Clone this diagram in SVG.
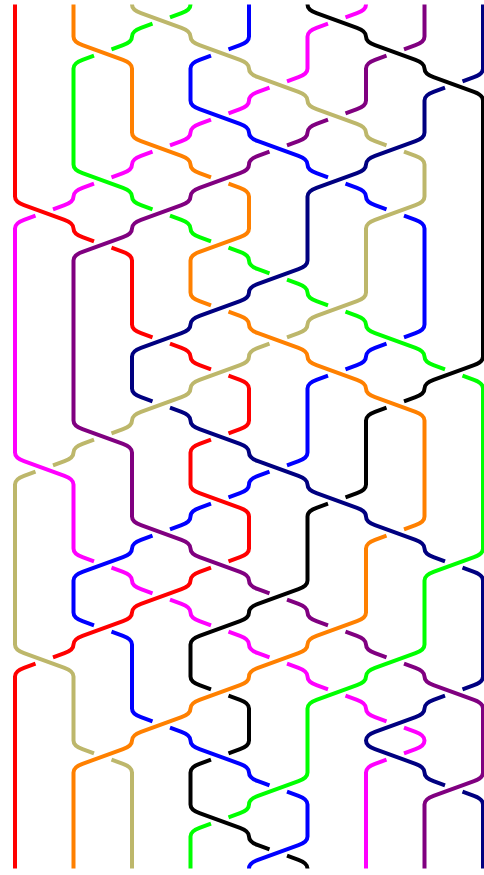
<svg xmlns="http://www.w3.org/2000/svg" width="484" height="875" viewBox="0 0 484 875">
<style>
.s{fill:none;stroke-width:4;stroke-linecap:butt;stroke-linejoin:round}
</style>
<rect width="484" height="875" fill="#fff"/>
<g id="strands">
<g id="red"><path class="s" stroke="#ff0000" d="M15,4.5 v192 q0,5.5 9,8.7 l40.5,14.6 q9,3.2 9,8.7 q0,5.5 9,8.7 l11.5,4.15 m17.5,6.3 l11.5,4.15 q9,3.2 9,8.7 v64 q0,5.5 9,8.7 l11.5,4.15 m17.5,6.3 l11.5,4.15 q9,3.2 9,8.7 q0,5.5 9,8.7 l11.5,4.15 m17.5,6.3 l11.5,4.15 q9,3.2 9,8.7 v32 q0,5.5 -9,8.7 l-11.5,4.15 m-17.5,6.3 l-11.5,4.15 q-9,3.2 -9,8.7 v32 q0,5.5 9,8.7 l40.5,14.6 q9,3.2 9,8.7 v32 q0,5.5 -9,8.7 l-11.5,4.15 m-17.5,6.3 l-11.5,4.15 q-9,3.2 -9,8.7 q0,5.5 -9,8.7 l-40.5,14.6 q-9,3.2 -9,8.7 q0,5.5 -9,8.7 l-40.5,14.6 q-9,3.2 -9,8.7 q0,5.5 -9,8.7 l-11.5,4.15 m-17.5,6.3 l-11.5,4.15 q-9,3.2 -9,8.7 v192"/></g>
<g id="orange"><path class="s" stroke="#ff8000" d="M73.5,4.5 v32 q0,5.5 9,8.7 l40.5,14.6 q9,3.2 9,8.7 v64 q0,5.5 9,8.7 l40.5,14.6 q9,3.2 9,8.7 q0,5.5 9,8.7 l11.5,4.15 m17.5,6.3 l11.5,4.15 q9,3.2 9,8.7 v32 q0,5.5 -9,8.7 l-40.5,14.6 q-9,3.2 -9,8.7 v32 q0,5.5 9,8.7 l11.5,4.15 m17.5,6.3 l11.5,4.15 q9,3.2 9,8.7 q0,5.5 9,8.7 l40.5,14.6 q9,3.2 9,8.7 q0,5.5 9,8.7 l40.5,14.6 q9,3.2 9,8.7 q0,5.5 9,8.7 l40.5,14.6 q9,3.2 9,8.7 v96 q0,5.5 -9,8.7 l-11.5,4.15 m-17.5,6.3 l-11.5,4.15 q-9,3.2 -9,8.7 v64 q0,5.5 -9,8.7 l-40.5,14.6 q-9,3.2 -9,8.7 q0,5.5 -9,8.7 l-40.5,14.6 q-9,3.2 -9,8.7 q0,5.5 -9,8.7 l-40.5,14.6 q-9,3.2 -9,8.7 q0,5.5 -9,8.7 l-40.5,14.6 q-9,3.2 -9,8.7 q0,5.5 -9,8.7 l-40.5,14.6 q-9,3.2 -9,8.7 v96"/></g>
<g id="khaki"><path class="s" stroke="#bdb76b" d="M132,4.5 q0,5.5 9,8.7 l40.5,14.6 q9,3.2 9,8.7 q0,5.5 9,8.7 l40.5,14.6 q9,3.2 9,8.7 q0,5.5 9,8.7 l40.5,14.6 q9,3.2 9,8.7 q0,5.5 9,8.7 l40.5,14.6 q9,3.2 9,8.7 q0,5.5 9,8.7 l11.5,4.15 m17.5,6.3 l11.5,4.15 q9,3.2 9,8.7 v32 q0,5.5 -9,8.7 l-40.5,14.6 q-9,3.2 -9,8.7 v64 q0,5.5 -9,8.7 l-40.5,14.6 q-9,3.2 -9,8.7 q0,5.5 -9,8.7 l-11.5,4.15 m-17.5,6.3 l-11.5,4.15 q-9,3.2 -9,8.7 q0,5.5 -9,8.7 l-40.5,14.6 q-9,3.2 -9,8.7 q0,5.5 -9,8.7 l-40.5,14.6 q-9,3.2 -9,8.7 q0,5.5 -9,8.7 l-11.5,4.15 m-17.5,6.3 l-11.5,4.15 q-9,3.2 -9,8.7 q0,5.5 -9,8.7 l-11.5,4.15 m-17.5,6.3 l-11.5,4.15 q-9,3.2 -9,8.7 v160 q0,5.5 9,8.7 l40.5,14.6 q9,3.2 9,8.7 v64 q0,5.5 9,8.7 l11.5,4.15 m17.5,6.3 l11.5,4.15 q9,3.2 9,8.7 v96"/></g>
<g id="green"><path class="s" stroke="#00ff00" d="M190.5,4.5 q0,5.5 -9,8.7 l-11.5,4.15 m-17.5,6.3 l-11.5,4.15 q-9,3.2 -9,8.7 q0,5.5 -9,8.7 l-11.5,4.15 m-17.5,6.3 l-11.5,4.15 q-9,3.2 -9,8.7 v96 q0,5.5 9,8.7 l40.5,14.6 q9,3.2 9,8.7 q0,5.5 9,8.7 l11.5,4.15 m17.5,6.3 l11.5,4.15 q9,3.2 9,8.7 q0,5.5 9,8.7 l11.5,4.15 m17.5,6.3 l11.5,4.15 q9,3.2 9,8.7 q0,5.5 9,8.7 l11.5,4.15 m17.5,6.3 l11.5,4.15 q9,3.2 9,8.7 q0,5.5 9,8.7 l11.5,4.15 m17.5,6.3 l11.5,4.15 q9,3.2 9,8.7 q0,5.5 9,8.7 l40.5,14.6 q9,3.2 9,8.7 q0,5.5 9,8.7 l11.5,4.15 m17.5,6.3 l11.5,4.15 q9,3.2 9,8.7 v160 q0,5.5 -9,8.7 l-40.5,14.6 q-9,3.2 -9,8.7 v64 q0,5.5 -9,8.7 l-40.5,14.6 q-9,3.2 -9,8.7 q0,5.5 -9,8.7 l-40.5,14.6 q-9,3.2 -9,8.7 v64 q0,5.5 -9,8.7 l-40.5,14.6 q-9,3.2 -9,8.7 q0,5.5 -9,8.7 l-11.5,4.15 m-17.5,6.3 l-11.5,4.15 q-9,3.2 -9,8.7 v32"/></g>
<g id="blue"><path class="s" stroke="#0000ff" d="M249,4.5 v32 q0,5.5 -9,8.7 l-11.5,4.15 m-17.5,6.3 l-11.5,4.15 q-9,3.2 -9,8.7 v32 q0,5.5 9,8.7 l40.5,14.6 q9,3.2 9,8.7 q0,5.5 9,8.7 l40.5,14.6 q9,3.2 9,8.7 q0,5.5 9,8.7 l11.5,4.15 m17.5,6.3 l11.5,4.15 q9,3.2 9,8.7 q0,5.5 9,8.7 l11.5,4.15 m17.5,6.3 l11.5,4.15 q9,3.2 9,8.7 v96 q0,5.5 -9,8.7 l-11.5,4.15 m-17.5,6.3 l-11.5,4.15 q-9,3.2 -9,8.7 q0,5.5 -9,8.7 l-11.5,4.15 m-17.5,6.3 l-11.5,4.15 q-9,3.2 -9,8.7 v64 q0,5.5 -9,8.7 l-11.5,4.15 m-17.5,6.3 l-11.5,4.15 q-9,3.2 -9,8.7 q0,5.5 -9,8.7 l-11.5,4.15 m-17.5,6.3 l-11.5,4.15 q-9,3.2 -9,8.7 q0,5.5 -9,8.7 l-11.5,4.15 m-17.5,6.3 l-11.5,4.15 q-9,3.2 -9,8.7 q0,5.5 -9,8.7 l-40.5,14.6 q-9,3.2 -9,8.7 v32 q0,5.5 9,8.7 l11.5,4.15 m17.5,6.3 l11.5,4.15 q9,3.2 9,8.7 v64 q0,5.5 9,8.7 l11.5,4.15 m17.5,6.3 l11.5,4.15 q9,3.2 9,8.7 q0,5.5 9,8.7 l40.5,14.6 q9,3.2 9,8.7 q0,5.5 9,8.7 l11.5,4.15 m17.5,6.3 l11.5,4.15 q9,3.2 9,8.7 v32 q0,5.5 -9,8.7 l-40.5,14.6 q-9,3.2 -9,8.7"/></g>
<g id="black"><path class="s" stroke="#000000" d="M307.5,4.5 q0,5.5 9,8.7 l40.5,14.6 q9,3.2 9,8.7 q0,5.5 9,8.7 l40.5,14.6 q9,3.2 9,8.7 q0,5.5 9,8.7 l40.5,14.6 q9,3.2 9,8.7 v256 q0,5.5 -9,8.7 l-40.5,14.6 q-9,3.2 -9,8.7 q0,5.5 -9,8.7 l-11.5,4.15 m-17.5,6.3 l-11.5,4.15 q-9,3.2 -9,8.7 v64 q0,5.5 -9,8.7 l-11.5,4.15 m-17.5,6.3 l-11.5,4.15 q-9,3.2 -9,8.7 v64 q0,5.5 -9,8.7 l-40.5,14.6 q-9,3.2 -9,8.7 q0,5.5 -9,8.7 l-40.5,14.6 q-9,3.2 -9,8.7 v32 q0,5.5 9,8.7 l11.5,4.15 m17.5,6.3 l11.5,4.15 q9,3.2 9,8.7 v32 q0,5.5 -9,8.7 l-11.5,4.15 m-17.5,6.3 l-11.5,4.15 q-9,3.2 -9,8.7 v32 q0,5.5 9,8.7 l40.5,14.6 q9,3.2 9,8.7 q0,5.5 9,8.7 l11.5,4.15 m17.5,6.3 l11.5,4.15 q9,3.2 9,8.7"/></g>
<g id="magenta"><path class="s" stroke="#ff00ff" d="M366,4.5 q0,5.5 -9,8.7 l-11.5,4.15 m-17.5,6.3 l-11.5,4.15 q-9,3.2 -9,8.7 v32 q0,5.5 -9,8.7 l-11.5,4.15 m-17.5,6.3 l-11.5,4.15 q-9,3.2 -9,8.7 q0,5.5 -9,8.7 l-11.5,4.15 m-17.5,6.3 l-11.5,4.15 q-9,3.2 -9,8.7 q0,5.5 -9,8.7 l-11.5,4.15 m-17.5,6.3 l-11.5,4.15 q-9,3.2 -9,8.7 q0,5.5 -9,8.7 l-11.5,4.15 m-17.5,6.3 l-11.5,4.15 q-9,3.2 -9,8.7 q0,5.5 -9,8.7 l-11.5,4.15 m-17.5,6.3 l-11.5,4.15 q-9,3.2 -9,8.7 v224 q0,5.5 9,8.7 l40.5,14.6 q9,3.2 9,8.7 v64 q0,5.5 9,8.7 l11.5,4.15 m17.5,6.3 l11.5,4.15 q9,3.2 9,8.7 q0,5.5 9,8.7 l11.5,4.15 m17.5,6.3 l11.5,4.15 q9,3.2 9,8.7 q0,5.5 9,8.7 l11.5,4.15 m17.5,6.3 l11.5,4.15 q9,3.2 9,8.7 q0,5.5 9,8.7 l11.5,4.15 m17.5,6.3 l11.5,4.15 q9,3.2 9,8.7 q0,5.5 9,8.7 l11.5,4.15 m17.5,6.3 l11.5,4.15 q9,3.2 9,8.7 q0,5.5 9,8.7 l11.5,4.15 m17.5,6.3 l11.5,4.15 q9,3.2 9,8.7 q0,5.5 -9,8.7 l-11.5,4.15 m-17.5,6.3 l-11.5,4.15 q-9,3.2 -9,8.7 v96"/></g>
<g id="purple"><path class="s" stroke="#800080" d="M424.5,4.5 v32 q0,5.5 -9,8.7 l-11.5,4.15 m-17.5,6.3 l-11.5,4.15 q-9,3.2 -9,8.7 v32 q0,5.5 -9,8.7 l-11.5,4.15 m-17.5,6.3 l-11.5,4.15 q-9,3.2 -9,8.7 q0,5.5 -9,8.7 l-11.5,4.15 m-17.5,6.3 l-11.5,4.15 q-9,3.2 -9,8.7 q0,5.5 -9,8.7 l-40.5,14.6 q-9,3.2 -9,8.7 q0,5.5 -9,8.7 l-40.5,14.6 q-9,3.2 -9,8.7 q0,5.5 -9,8.7 l-40.5,14.6 q-9,3.2 -9,8.7 v160 q0,5.5 9,8.7 l40.5,14.6 q9,3.2 9,8.7 v64 q0,5.5 9,8.7 l40.5,14.6 q9,3.2 9,8.7 q0,5.5 9,8.7 l40.5,14.6 q9,3.2 9,8.7 q0,5.5 9,8.7 l11.5,4.15 m17.5,6.3 l11.5,4.15 q9,3.2 9,8.7 q0,5.5 9,8.7 l11.5,4.15 m17.5,6.3 l11.5,4.15 q9,3.2 9,8.7 q0,5.5 9,8.7 l11.5,4.15 m17.5,6.3 l11.5,4.15 q9,3.2 9,8.7 q0,5.5 9,8.7 l40.5,14.6 q9,3.2 9,8.7 v64 q0,5.5 -9,8.7 l-40.5,14.6 q-9,3.2 -9,8.7 v64"/></g>
<g id="navy"><path class="s" stroke="#000080" d="M483,4.5 v64 q0,5.5 -9,8.7 l-11.5,4.15 m-17.5,6.3 l-11.5,4.15 q-9,3.2 -9,8.7 v32 q0,5.5 -9,8.7 l-40.5,14.6 q-9,3.2 -9,8.7 q0,5.5 -9,8.7 l-40.5,14.6 q-9,3.2 -9,8.7 v64 q0,5.5 -9,8.7 l-40.5,14.6 q-9,3.2 -9,8.7 q0,5.5 -9,8.7 l-40.5,14.6 q-9,3.2 -9,8.7 q0,5.5 -9,8.7 l-40.5,14.6 q-9,3.2 -9,8.7 v32 q0,5.5 9,8.7 l11.5,4.15 m17.5,6.3 l11.5,4.15 q9,3.2 9,8.7 q0,5.5 9,8.7 l40.5,14.6 q9,3.2 9,8.7 q0,5.5 9,8.7 l40.5,14.6 q9,3.2 9,8.7 q0,5.5 9,8.7 l40.5,14.6 q9,3.2 9,8.7 q0,5.5 9,8.7 l40.5,14.6 q9,3.2 9,8.7 q0,5.5 9,8.7 l11.5,4.15 m17.5,6.3 l11.5,4.15 q9,3.2 9,8.7 v96 q0,5.5 -9,8.7 l-11.5,4.15 m-17.5,6.3 l-11.5,4.15 q-9,3.2 -9,8.7 q0,5.5 -9,8.7 l-40.5,14.6 q-9,3.2 -9,8.7 q0,5.5 9,8.7 l40.5,14.6 q9,3.2 9,8.7 q0,5.5 9,8.7 l11.5,4.15 m17.5,6.3 l11.5,4.15 q9,3.2 9,8.7 v64"/></g>
</g>
</svg>
